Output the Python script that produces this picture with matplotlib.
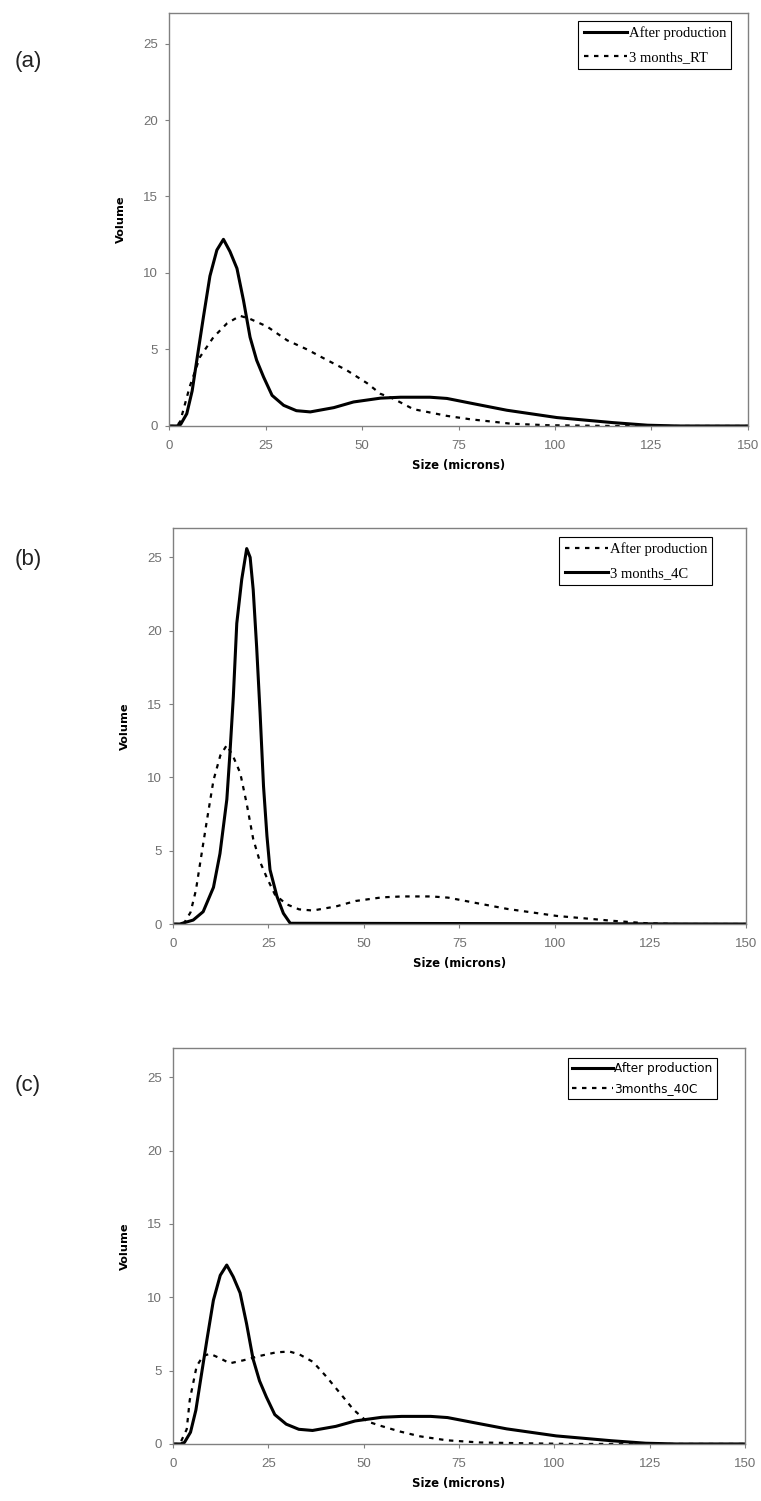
import matplotlib
matplotlib.use('Agg')
import matplotlib.pyplot as plt

# particle size distributions
size_after = [0, 2, 3, 4.6, 6, 7.2, 8.9, 10.6, 12.4, 14.1, 15.8, 17.6, 19.3, 21, 22.7,
              24.5, 26.7, 29.7, 33, 36.6, 42.7, 47.8, 54.8, 60, 67.6, 72, 79, 87.5,
              100.5, 115, 124, 132, 150]
vol_after = [0, 0, 0.1, 0.8, 2.3, 4.3, 7.1, 9.8, 11.5, 12.2, 11.4, 10.3, 8.2, 5.8, 4.3,
             3.2, 2.0, 1.35, 1.0, 0.92, 1.2, 1.57, 1.82, 1.88, 1.88, 1.8, 1.45, 1.03,
             0.55, 0.22, 0.05, 0, 0]

size_rt = [0, 2, 2.9, 5.4, 8, 11.5, 15, 18.4, 21, 25.4, 30.6, 35.8, 41, 46, 51.3, 54.8,
           58, 63.3, 72, 78, 88.6, 98, 115, 150]
vol_rt = [0, 0, 0.3, 2.6, 4.5, 5.8, 6.7, 7.2, 7.0, 6.5, 5.6, 5.0, 4.3, 3.65, 2.8, 2.1,
          1.8, 1.1, 0.66, 0.44, 0.15, 0.05, 0, 0]

size_4c = [0, 1.8, 5.3, 7.9, 10.6, 12.3, 14.1, 14.9, 15.8, 16.7, 18, 19.3, 20.2, 21,
           21.9, 22.8, 23.7, 24.6, 25.4, 27.2, 28.9, 30.7, 150]
vol_4c = [0, 0, 0.27, 0.84, 2.5, 4.8, 8.5, 11.6, 15.5, 20.5, 23.5, 25.6, 25.0, 22.8,
          18.9, 14.4, 9.4, 6.0, 3.7, 1.9, 0.73, 0.05, 0]

size_40c = [0, 1.8, 3.6, 4.4, 6.2, 7.9, 9.7, 12.3, 14.9, 18.4, 22.7, 27.1, 30.6, 33.2,
            36.7, 40.2, 43.7, 47.3, 50.8, 54.3, 59.5, 64.8, 71.8, 80.5, 93.7, 105, 150]
vol_40c = [0, 0, 1.0, 3.0, 5.3, 6.0, 6.15, 5.85, 5.5, 5.7, 6.0, 6.25, 6.3, 6.1, 5.6,
           4.6, 3.5, 2.35, 1.55, 1.25, 0.85, 0.52, 0.25, 0.1, 0.04, 0, 0]

x_ticks = [0, 25, 50, 75, 100, 125, 150]
y_ticks = [0, 5, 10, 15, 20, 25]

solid = dict(color='black', lw=2.2, ls='-')
dashed = dict(color='black', lw=1.6, ls=(0, (2, 2.5)))

fig = plt.figure(figsize=(7.61, 15.01), dpi=100)

panels = [
    ([0.2221, 0.7162, 0.7608, 0.2752],
     [(size_after, vol_after, solid, 'After production'),
      (size_rt, vol_rt, dashed, '3 months_RT')],
     (0.971, 0.981), 'Liberation Serif', 10.5, 0.75, 3.0),
    ([0.2273, 0.3844, 0.7530, 0.2638],
     [(size_after, vol_after, dashed, 'After production'),
      (size_4c, vol_4c, solid, '3 months_4C')],
     (0.941, 0.977), 'Liberation Serif', 10.5, 0.75, 3.0),
    ([0.2273, 0.0380, 0.7516, 0.2638],
     [(size_after, vol_after, solid, 'After production'),
      (size_40c, vol_40c, dashed, '3months_40C')],
     (0.951, 0.975), 'DejaVu Sans', 8.7, 0.55, 3.4),
]

for rect, series, anchor, leg_font, leg_size, spacing, hlen in panels:
    ax = fig.add_axes(rect)
    for xs, ys, style, name in series:
        ax.plot(xs, ys, label=name, **style)
    ax.set_xlim(0, 150)
    ax.set_ylim(0, 27)
    ax.set_xticks(x_ticks)
    ax.set_yticks(y_ticks)
    ax.tick_params(direction='out', length=3, width=0.8, colors='#808080',
                   labelcolor='#707070')
    ax.tick_params(axis='x', pad=7)
    ax.tick_params(axis='y', pad=5)
    for lab in ax.get_xticklabels() + ax.get_yticklabels():
        lab.set_fontfamily('Liberation Sans')
        lab.set_fontsize(9.5)
    for sp in ax.spines.values():
        sp.set_color('#808080')
        sp.set_linewidth(1.0)
    ax.set_xlabel('Size (microns)', fontsize=8.4, fontweight='bold', labelpad=5)
    ax.set_ylabel('Volume', fontsize=8.2, fontweight='bold', labelpad=12)
    leg = ax.legend(loc='upper right', bbox_to_anchor=anchor, fancybox=False,
                    edgecolor='black', framealpha=1, handlelength=hlen,
                    handletextpad=0.1, borderpad=0.35, labelspacing=spacing,
                    borderaxespad=0, prop={'family': leg_font, 'size': leg_size})
    leg.get_frame().set_linewidth(0.8)

# panel letters
for label, ypix in [('(a)', 62), ('(b)', 559), ('(c)', 1085)]:
    fig.text(15 / 761, 1 - ypix / 1501, label, fontsize=16, family='Liberation Sans',
             va='center', ha='left', color='#222222')

fig.savefig('out.png', dpi=100)
